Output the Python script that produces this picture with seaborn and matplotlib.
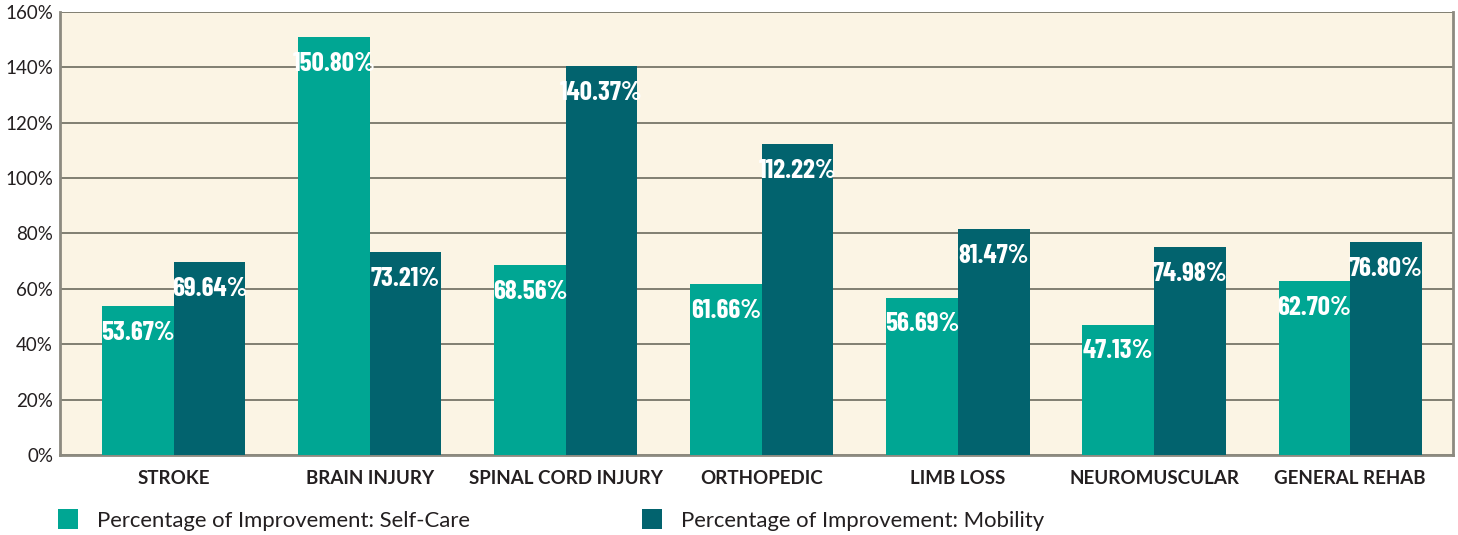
import numpy as np
import pandas as pd
import seaborn as sns
import matplotlib.pyplot as plt
from matplotlib import font_manager

categories = ["STROKE", "BRAIN INJURY", "SPINAL CORD INJURY", "ORTHOPEDIC",
              "LIMB LOSS", "NEUROMUSCULAR", "GENERAL REHAB"]
self_care = [53.67, 150.80, 68.56, 61.66, 56.69, 47.13, 62.70]
mobility = [69.64, 73.21, 140.37, 112.22, 81.47, 74.98, 76.80]
series = ["Percentage of Improvement: Self-Care", "Percentage of Improvement: Mobility"]
colors = ["#00A693", "#02636E"]
yticks = [0, 20, 40, 60, 80, 100, 120, 140, 160]

# condensed face for the value labels if there is one
names = {f.name for f in font_manager.fontManager.ttflist}
if "Barlow Condensed" in names:
    lab_font, lab_size = "Barlow Condensed", 19.5
else:
    lab_font, lab_size = "Roboto", 14.5

sns.set_style("white")
plt.rcParams['font.family'] = ['Lato', 'DejaVu Sans']

df = pd.DataFrame({
    "category": categories * 2,
    "series": [series[0]] * len(categories) + [series[1]] * len(categories),
    "value": self_care + mobility,
})

fig = plt.figure(figsize=(14.58, 5.35), dpi=100)
ax = fig.add_axes([60 / 1458, 80 / 535, 1393 / 1458, 443 / 535])
ax.set_facecolor("#FBF4E4")

sns.barplot(data=df, x="category", y="value", hue="series", palette=colors,
            width=0.73, gap=0, saturation=1, linewidth=0, ax=ax, zorder=3)

for cont in ax.containers:
    for bar in cont:
        h = bar.get_height()
        ax.annotate(f"{h:.2f}%", (bar.get_x() + bar.get_width() / 2, h),
                    xytext=(0, -19), textcoords="offset points",
                    ha="center", va="center", color="white", fontsize=lab_size,
                    fontweight="bold", family=[lab_font, 'DejaVu Sans'], zorder=5)

ax.set_ylim(0, 160)
ax.set_xlim(-0.58, 6.525)
ax.set_yticks(yticks)
ax.set_yticklabels([f"{v}%" for v in yticks])
ax.yaxis.grid(True, color="#6B6A5E", linewidth=1.2, zorder=1)
ax.set_axisbelow(True)
ax.tick_params(axis="y", length=0, pad=5, labelsize=13.5, labelcolor="#231F20")
ax.tick_params(axis="x", length=0, pad=11, labelsize=13.5, labelcolor="#231F20")
for lab in ax.get_xticklabels():
    lab.set_fontweight("bold")
ax.set_xlabel("")
ax.set_ylabel("")

for side in ["left", "bottom", "right"]:
    ax.spines[side].set_visible(True)
    ax.spines[side].set_color("#8C8A80")
    ax.spines[side].set_linewidth(2)
ax.spines["top"].set_visible(False)

handles, labels = ax.get_legend_handles_labels()
ax.legend_.remove()
fig.legend(handles, labels, loc="center left", bbox_to_anchor=(58 / 1458, 15 / 535),
           ncol=2, frameon=False, fontsize=15.9, handlelength=0.9, handleheight=1.0,
           handletextpad=0.85, columnspacing=7.8, borderpad=0, borderaxespad=0,
           labelcolor="#231F20")

fig.savefig("out.png", dpi=100, facecolor="white")
